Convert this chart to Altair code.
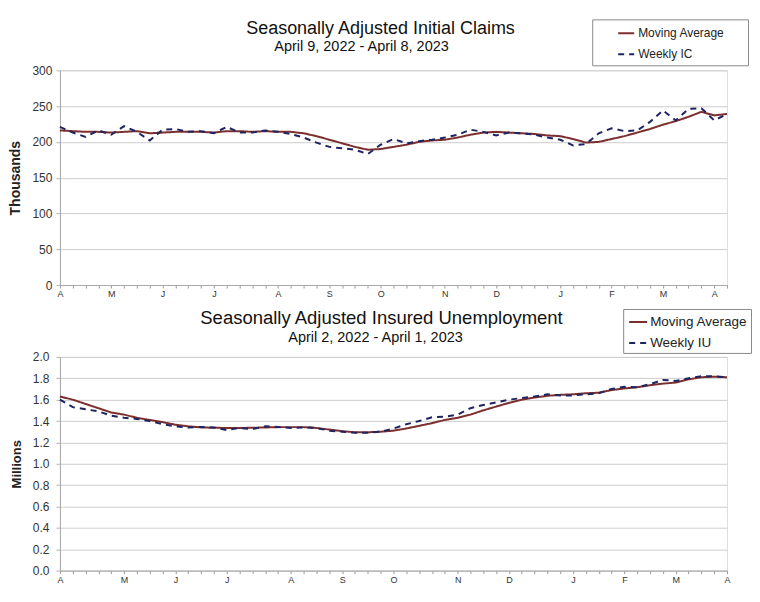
import altair as alt
import pandas as pd

# ---------------- data ----------------
weeks = list(range(53))

ic_weekly = [221, 213, 207, 216, 210, 222, 214, 202, 217, 218,
             214, 215, 212, 221, 213, 213, 216, 214, 211, 206,
             199, 193, 191, 189, 183, 196, 204, 198, 201, 203,
             206, 210, 217, 214, 209, 213, 212, 210, 206, 203,
             195, 197, 212, 219, 215, 216, 228, 244, 230, 246,
             247, 230, 239]
ic_ma = [216, 215, 214, 214, 213, 214, 215, 212, 213, 214,
         214, 214, 213, 215, 215, 214, 215, 214, 214, 212,
         208, 203, 198, 193, 189, 190, 193, 196, 200, 202,
         203, 206, 210, 213, 214, 213, 212, 211, 209, 208,
         204, 199, 200, 204, 208, 213, 218, 224, 229, 235,
         242, 237, 239]

iu_weekly = [1.60, 1.53, 1.51, 1.49, 1.45, 1.43, 1.42, 1.40, 1.37, 1.35,
             1.34, 1.345, 1.34, 1.315, 1.335, 1.325, 1.35, 1.345, 1.335, 1.34,
             1.335, 1.31, 1.30, 1.29, 1.29, 1.30, 1.33, 1.37, 1.40, 1.435,
             1.44, 1.46, 1.52, 1.55, 1.575, 1.60, 1.615, 1.63, 1.65, 1.64,
             1.64, 1.65, 1.66, 1.70, 1.72, 1.715, 1.745, 1.785, 1.775, 1.80,
             1.82, 1.82, 1.81]
iu_ma = [1.63, 1.60, 1.56, 1.52, 1.48, 1.46, 1.43, 1.41, 1.39, 1.365,
         1.35, 1.34, 1.337, 1.335, 1.335, 1.337, 1.34, 1.343, 1.343, 1.343,
         1.335, 1.32, 1.305, 1.295, 1.295, 1.30, 1.31, 1.33, 1.355, 1.38,
         1.41, 1.43, 1.46, 1.50, 1.535, 1.57, 1.60, 1.62, 1.636, 1.645,
         1.65, 1.66, 1.665, 1.69, 1.705, 1.716, 1.735, 1.75, 1.76, 1.79,
         1.81, 1.815, 1.81]

month_letters = ["A", "M", "J", "J", "A", "S", "O", "N", "D", "J", "F", "M", "A"]
ic_month_weeks = [0, 4, 8, 12, 17, 21, 25, 30, 34, 39, 43, 47, 51]
iu_month_weeks = [0, 5, 9, 13, 18, 22, 26, 31, 35, 40, 44, 48, 52]

ic_ticks = [0, 50, 100, 150, 200, 250, 300]
iu_ticks = [0.0, 0.2, 0.4, 0.6, 0.8, 1.0, 1.2, 1.4, 1.6, 1.8, 2.0]

MA_NAME = "Moving Average"
IC_NAME = "Weekly IC"
IU_NAME = "Weekly IU"

MA_COLOR = "#7c2f2f"
WK_COLOR = "#1f2361"
FONT = "Liberation Sans"
BLANK = "\u2800"  # blank glyph (not trimmed) used to widen the legend box


def label_expr(idx, letters):
    arr_i = "[" + ",".join(str(i) for i in idx) + "]"
    arr_l = "[" + ",".join("'" + l + "'" for l in letters) + "]"
    return ("indexof(" + arr_i + ", datum.value) >= 0 ? " + arr_l +
            "[indexof(" + arr_i + ", datum.value)] : ''")


def panel(weekly, ma, wk_name, month_idx, y_title, y_ticks, y_fmt,
          title, subtitle, t_pos, s_pos, t_size, s_size,
          leg_xy, leg_font, leg_pad, leg_row, leg_sym, leg_symoff, leg_tail, leg_laboff,
          width, height, y_label_pad, y_title_size, y_title_pad):
    df = pd.DataFrame({
        "week": weeks + weeks,
        "value": ma + weekly,
        "series": [MA_NAME] * len(weeks) + [wk_name] * len(weeks),
    })
    dom = [MA_NAME, wk_name]
    legend = alt.Legend(
        title=None, orient="none", legendX=leg_xy[0], legendY=leg_xy[1],
        strokeColor="#8a8a8a", fillColor="white", padding=leg_pad,
        rowPadding=leg_row, symbolType="stroke", symbolSize=leg_sym * leg_sym,
        symbolStrokeWidth=2, symbolOffset=leg_symoff, labelOffset=leg_laboff,
        labelFont=FONT, labelFontSize=leg_font, labelColor="#222",
        labelExpr="datum.label + '" + BLANK * leg_tail + "'",
        labelLimit=400,
    )
    lines = alt.Chart(df).mark_line(strokeWidth=2).encode(
        x=alt.X("week:Q",
                scale=alt.Scale(domain=[0, 52], nice=False, zero=False),
                axis=alt.Axis(values=weeks, labelExpr=label_expr(month_idx, month_letters),
                              title=None, grid=False, tickSize=3, tickColor="#9a9a9a",
                              domainColor="#a8a8a8", labelFont=FONT, labelFontSize=9,
                              labelColor="#333", labelPadding=2, labelOverlap=False,
                              labelFlush=False, labelBound=False)),
        y=alt.Y("value:Q",
                scale=alt.Scale(domain=[y_ticks[0], y_ticks[-1]], nice=False),
                axis=alt.Axis(values=y_ticks, format=y_fmt, title=y_title,
                              grid=True, gridColor="#cdcdcd", tickSize=4, tickColor="#b5b5b5",
                              domainColor="#a8a8a8", labelFont=FONT, labelFontSize=12,
                              labelColor="#333", labelPadding=y_label_pad,
                              titleFont=FONT, titleFontSize=y_title_size, titleFontWeight="bold",
                              titleColor="#222", titlePadding=y_title_pad)),
        color=alt.Color("series:N", scale=alt.Scale(domain=dom, range=[MA_COLOR, WK_COLOR]),
                        legend=legend),
        strokeDash=alt.StrokeDash("series:N",
                                  scale=alt.Scale(domain=dom, range=[[1, 0], [6, 5]]),
                                  legend=legend),
    )
    tdf = pd.DataFrame({"t": [title]})
    sdf = pd.DataFrame({"t": [subtitle]})
    ttl = alt.Chart(tdf).mark_text(font=FONT, fontSize=t_size, color="#111",
                                   align="center", baseline="alphabetic").encode(
        text="t:N", x=alt.value(t_pos[0]), y=alt.value(t_pos[1]))
    sub = alt.Chart(sdf).mark_text(font=FONT, fontSize=s_size, color="#111",
                                   align="center", baseline="alphabetic").encode(
        text="t:N", x=alt.value(s_pos[0]), y=alt.value(s_pos[1]))
    return alt.layer(lines, ttl, sub).properties(width=width, height=height)


top = panel(ic_weekly, ic_ma, IC_NAME, ic_month_weeks, "Thousands", ic_ticks, "d",
            "Seasonally Adjusted Initial Claims", "April 9, 2022 - April 8, 2023",
            (321, -36), (302, -19), 18, 14.5,
            (533, -51), 12, 5, 6, 16, 20, 2, 3,
            668, 215, 4, 14, 9)

bottom = panel(iu_weekly, iu_ma, IU_NAME, iu_month_weeks, "Millions", iu_ticks, ".1f",
               "Seasonally Adjusted Insured Unemployment", "April 2, 2022 - April 1, 2023",
               (322, -33), (316, -15), 18.5, 14.5,
               (564, -48), 13.5, 3, 4, 18, 2, 0, 2,
               668, 214, 7, 13, 9)

chart = alt.vconcat(top, bottom, spacing=8).resolve_scale(
    color="independent", strokeDash="independent", y="independent", x="independent"
).properties(
    padding={"left": 0, "top": 10, "right": 0, "bottom": 0}
).configure_view(stroke="#d6d6d6").configure(background="white")

chart.save("out.html", embed_options={"renderer": "svg", "actions": False})
